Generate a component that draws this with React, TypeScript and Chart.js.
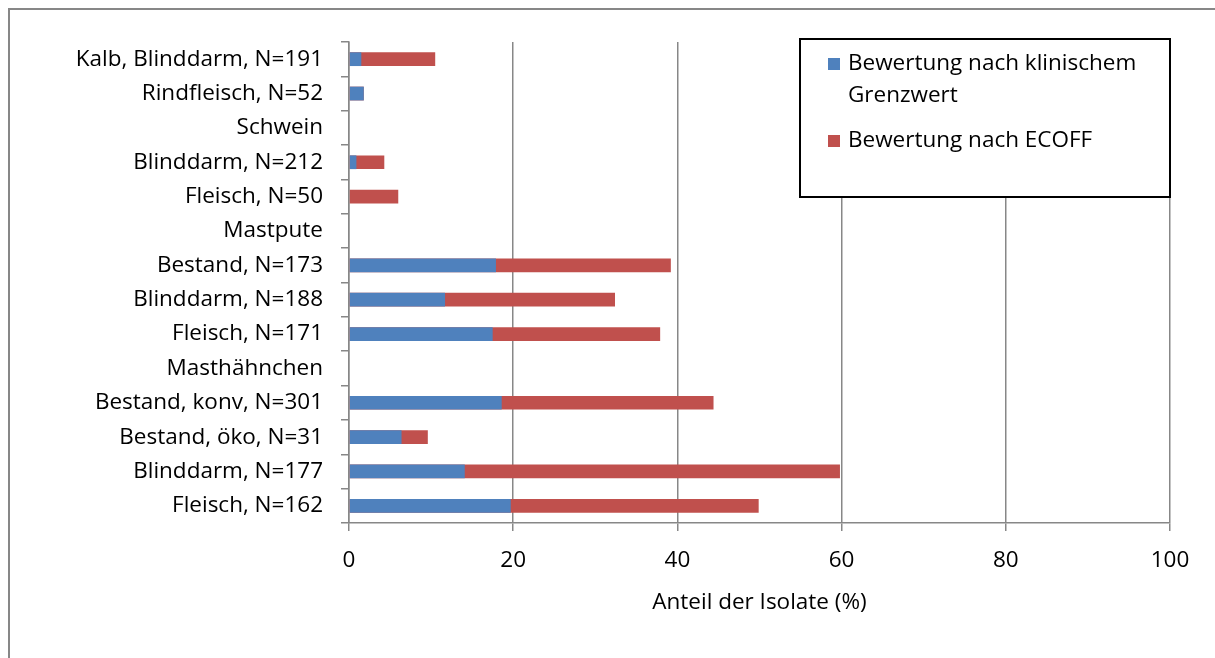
import React, { useEffect, useRef } from "react";
import { Chart, registerables } from "chart.js";

Chart.register(...registerables);

const categories = [
  "Kalb, Blinddarm, N=191",
  "Rindfleisch, N=52",
  "Schwein",
  "Blinddarm, N=212",
  "Fleisch, N=50",
  "Mastpute",
  "Bestand, N=173",
  "Blinddarm, N=188",
  "Fleisch, N=171",
  "Masthähnchen",
  "Bestand, konv, N=301",
  "Bestand, öko, N=31",
  "Blinddarm, N=177",
  "Fleisch, N=162",
];

const clinicalValues = [1.5, 1.8, null, 0.9, 0, null, 17.9, 11.7, 17.5, null, 18.6, 6.4, 14.1, 19.7];
const ecoffValues = [10.5, 1.8, null, 4.3, 6.0, null, 39.2, 32.4, 37.9, null, 44.4, 9.6, 59.8, 49.9];

const xTickValues = [0, 20, 40, 60, 80, 100];
const seriesLabels = ["Bewertung nach klinischem Grenzwert", "Bewertung nach ECOFF"];
const seriesColors = ["#4F81BD", "#C0504D"];
const xTitle = "Anteil der Isolate (%)";

const FONT = "'Open Sans', sans-serif";
const FONT_SIZE = 22.5;
const AXIS_GRAY = "#878787";

const framePlugin = {
  id: "frame",
  beforeDraw(chart: any) {
    const ctx = chart.ctx;
    ctx.save();
    ctx.strokeStyle = AXIS_GRAY;
    ctx.lineWidth = 2;
    ctx.beginPath();
    ctx.moveTo(9, chart.height);
    ctx.lineTo(9, 9);
    ctx.lineTo(chart.width, 9);
    ctx.stroke();
    ctx.restore();
  },
};

function wrapText(ctx: CanvasRenderingContext2D, text: string, maxWidth: number): string[] {
  const words = text.split(" ");
  const lines: string[] = [];
  let cur = "";
  for (const w of words) {
    const test = cur ? cur + " " + w : w;
    if (ctx.measureText(test).width > maxWidth && cur) {
      lines.push(cur);
      cur = w;
    } else {
      cur = test;
    }
  }
  if (cur) lines.push(cur);
  return lines;
}

const legendBoxPlugin = {
  id: "legendBox",
  afterDraw(chart: any) {
    const ctx = chart.ctx as CanvasRenderingContext2D;
    ctx.save();
    const bx = 800, by = 39, bw = 370, bh = 158;
    ctx.fillStyle = "#ffffff";
    ctx.fillRect(bx, by, bw, bh);
    ctx.strokeStyle = "#000000";
    ctx.lineWidth = 2;
    ctx.strokeRect(bx, by, bw, bh);
    ctx.font = `${FONT_SIZE}px ${FONT}`;
    ctx.textBaseline = "middle";
    ctx.textAlign = "left";
    let y = 64;
    chart.data.datasets.forEach((ds: any) => {
      ctx.fillStyle = ds.backgroundColor;
      ctx.fillRect(828, y - 6, 12, 12);
      ctx.fillStyle = "#000000";
      const lines = wrapText(ctx, ds.label, 310);
      lines.forEach((ln, i) => {
        ctx.fillText(ln, 848, y + i * 32);
      });
      y += lines.length * 32 + 13;
    });
    ctx.restore();
  },
};

export default function App() {
  const canvasRef = useRef<HTMLCanvasElement | null>(null);

  useEffect(() => {
    document.body.style.margin = "0";
    document.body.style.overflow = "hidden";
    const canvas = canvasRef.current;
    if (!canvas) return;
    const chart = new Chart(canvas, {
      type: "bar",
      data: {
        labels: categories,
        datasets: [
          {
            label: seriesLabels[0],
            data: clinicalValues,
            backgroundColor: seriesColors[0],
            borderWidth: 0,
            barPercentage: 0.4,
            categoryPercentage: 1,
          },
          {
            label: seriesLabels[1],
            data: ecoffValues,
            backgroundColor: seriesColors[1],
            borderWidth: 0,
            barPercentage: 0.4,
            categoryPercentage: 1,
          },
        ],
      },
      options: {
        indexAxis: "y",
        animation: false,
        responsive: true,
        maintainAspectRatio: false,
        layout: { padding: { top: 42, right: 45, left: 0, bottom: 0 } },
        plugins: {
          legend: { display: false },
          tooltip: { enabled: false },
        },
        scales: {
          x: {
            stacked: false,
            min: 0,
            max: 100,
            afterBuildTicks(scale: any) {
              scale.ticks = xTickValues.map((v) => ({ value: v }));
            },
            afterFit(scale: any) {
              scale.height = 135;
            },
            grid: {
              color: AXIS_GRAY,
              lineWidth: 1.5,
              tickLength: 8,
              drawOnChartArea: true,
            },
            border: { color: AXIS_GRAY, width: 1.5 },
            ticks: {
              color: "#000000",
              font: { family: FONT, size: FONT_SIZE },
              padding: 16,
              maxRotation: 0,
            },
            title: {
              display: true,
              text: xTitle,
              color: "#000000",
              font: { family: FONT, size: FONT_SIZE },
              padding: { top: 0, bottom: 42 },
            },
          },
          y: {
            stacked: true,
            afterFit(scale: any) {
              scale.width = 349;
            },
            grid: {
              color: AXIS_GRAY,
              lineWidth: 1.5,
              tickLength: 8,
              drawOnChartArea: false,
              offset: true,
            },
            border: { color: AXIS_GRAY, width: 1.5 },
            ticks: {
              color: "#000000",
              font: { family: FONT, size: FONT_SIZE },
              padding: 18,
              autoSkip: false,
            },
          },
        },
      },
      plugins: [framePlugin, legendBoxPlugin],
    });
    return () => chart.destroy();
  }, []);

  return (
    <div style={{ width: 1215, height: 658, position: "relative" }}>
      <canvas ref={canvasRef} />
    </div>
  );
}
